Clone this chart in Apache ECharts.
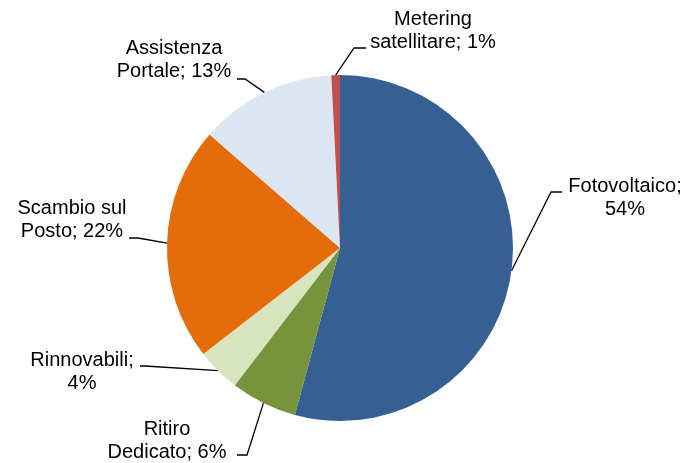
<!DOCTYPE html>
<html>
<head>
<meta charset="utf-8">
<script src="https://cdn.jsdelivr.net/npm/echarts@6/dist/echarts.min.js"></script>
<style>html,body{margin:0;padding:0;background:#fff}#c{width:686px;height:463px}</style>
</head>
<body>
<div id="c"></div>
<script>
const categories = ["Fotovoltaico", "Ritiro\nDedicato", "Rinnovabili", "Scambio sul\nPosto", "Assistenza\nPortale", "Metering\nsatellitare"];
const values = [54.2, 6.2, 4.1, 21.9, 12.8, 0.8];
const colors = ["#366092", "#77933C", "#D7E4BD", "#E46C0A", "#DCE6F2", "#C0504D"];
// label block centre, line elbow, line end
const labelLayoutSpec = [
  [625, 198, 551, 192, 562, 192],
  [167, 441, 247, 455, 237, 455],
  [82, 372, 145, 366, 140, 366],
  [72, 220, 138, 238, 129, 238],
  [174, 60, 245, 79, 237, 79],
  [433, 31, 354, 48, 366, 48]
];

const chart = echarts.init(document.getElementById('c'), null, {renderer: 'canvas'});
chart.setOption({
  animation: false,
  backgroundColor: '#fff',
  series: [{
    type: 'pie',
    center: [340, 248],
    radius: 173,
    startAngle: 90,
    clockwise: true,
    data: categories.map((n, i) => ({name: n, value: values[i], itemStyle: {color: colors[i]}})),
    itemStyle: {borderWidth: 0},
    label: {
      show: true,
      fontFamily: 'Liberation Sans, Arial, sans-serif',
      fontSize: 20,
      lineHeight: 23,
      color: '#000',
      align: 'center',
      formatter: p => {
        const pct = Math.round(p.percent);
        return p.name.indexOf('\n') >= 0 ? p.name + '; ' + pct + '%' : p.name + ';\n' + pct + '%';
      }
    },
    labelLine: {show: true, lineStyle: {color: '#000', width: 1.3}, length: 10, length2: 10},
    labelLayout: function (params) {
      const s = labelLayoutSpec[params.dataIndex];
      const p0 = params.labelLinePoints ? params.labelLinePoints[0] : [s[2], s[3]];
      return {
        x: s[0], y: s[1], align: 'center', verticalAlign: 'middle',
        labelLinePoints: [p0, [s[2], s[3]], [s[4], s[5]]]
      };
    }
  }]
});
</script>
</body>
</html>
